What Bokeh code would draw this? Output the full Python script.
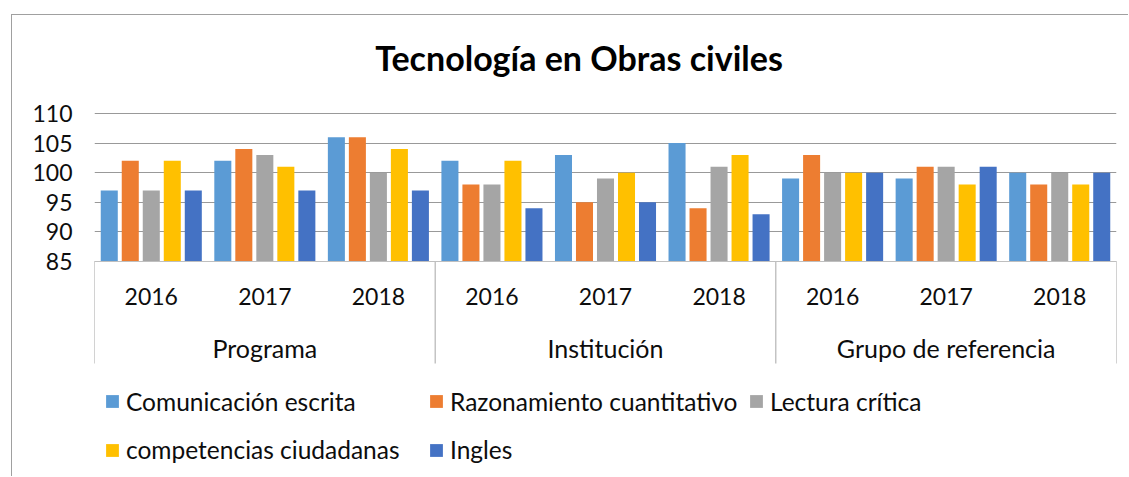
from bokeh.plotting import figure
from bokeh.models import FactorRange, Range1d, Legend, LegendItem, Label, FixedTicker, ColumnDataSource
from bokeh.transform import dodge
from bokeh.core.properties import value
from bokeh.embed import file_html
from bokeh.resources import INLINE

# ---------------- data ----------------
title = "Tecnología en Obras civiles"
groups = ["Programa", "Institución", "Grupo de referencia"]
years = ["2016", "2017", "2018"]
series = ["Comunicación escrita", "Razonamiento cuantitativo", "Lectura crítica",
          "competencias ciudadanas", "Ingles"]
colors = ["#5B9BD5", "#ED7D31", "#A5A5A5", "#FFC000", "#4472C4"]
comunicacion = [97, 102, 106, 102, 103, 105, 99, 99, 100]
razonamiento = [102, 104, 106, 98, 95, 94, 103, 101, 98]
lectura = [97, 103, 100, 98, 99, 101, 100, 101, 100]
competencias = [102, 101, 104, 102, 100, 103, 100, 98, 98]
ingles = [97, 97, 97, 94, 95, 93, 100, 101, 100]
y_ticks = [85, 90, 95, 100, 105, 110]

values = [comunicacion, razonamiento, lectura, competencias, ingles]
factors = [(g, y) for g in groups for y in years]

# ---------------- layout constants ----------------
OX, OY = 12, 15            # canvas origin on the page (after css margin + border)
W, H = 1129 - OX, 477 - OY
FRAME_L, FRAME_R = 94, 1116
LEFT, RIGHT = FRAME_L - OX, W - (FRAME_R - OX)
FONT = "Lato"
TXT = "#0d0d0d"
PX_PER_UNIT = (261 - 113) / 25.0
y_hi = 110 + (113 - OY) / PX_PER_UNIT
y_lo = y_hi - H / PX_PER_UNIT
base = y_ticks[0]

def y_at(page_y):
    return y_hi - (page_y - OY) / PX_PER_UNIT

p = figure(width=W, height=H, output_backend="svg", toolbar_location=None,
           x_range=FactorRange(*factors, factor_padding=0, group_padding=0,
                               subgroup_padding=0, range_padding=0),
           y_range=Range1d(y_lo, y_hi), x_axis_location=None, title=None,
           min_border_left=LEFT, min_border_right=RIGHT, min_border_top=0,
           min_border_bottom=0)
p.styles = {"margin-left": "11px", "margin-top": "14px",
            "border-left": "1px solid #a0a0a0", "border-top": "1px solid #a0a0a0"}
p.outline_line_color = None
p.background_fill_color = "white"
p.border_fill_color = "white"

ya = p.yaxis[0]
ya.ticker = FixedTicker(ticks=y_ticks)
ya.axis_line_color = None
ya.major_tick_line_color = None
ya.minor_tick_line_color = None
ya.major_tick_out = 0
ya.major_tick_in = 0
ya.major_label_standoff = 22
ya.major_label_text_font = FONT
ya.major_label_text_font_size = "23px"
ya.major_label_text_color = TXT

p.xgrid.visible = False
p.ygrid.ticker = FixedTicker(ticks=y_ticks)
p.ygrid.grid_line_color = "#999999"
p.ygrid.grid_line_width = 1

src = ColumnDataSource(dict(x=factors, **{f"s{i}": v for i, v in enumerate(values)}))

pitch, bw = 0.185, 0.15
renderers = []
for i, (name, col) in enumerate(zip(series, colors)):
    off = (i - (len(series) - 1) / 2) * pitch
    r = p.vbar(x=dodge("x", off, range=p.x_range), top=f"s{i}", bottom=base,
               width=bw, source=src, fill_color=col, line_color=None)
    renderers.append(r)

# category axis boxes
ng = len(years)
sep_x = [k * ng for k in range(len(groups) + 1)]
p.segment(x0=sep_x, x1=sep_x, y0=[base] * len(sep_x), y1=[y_at(363)] * len(sep_x),
          line_color="#a6a6a6", line_width=1)
p.segment(x0=[0], x1=[len(factors)], y0=[base], y1=[base], line_color="#bfbfbf", line_width=1)

p.text(x=factors, y=[y_at(296)] * len(factors), text=[f[1] for f in factors],
       text_font=value(FONT), text_font_size="23px", text_color=TXT,
       text_align="center", text_baseline="middle")
p.text(x=groups, y=[y_at(347)] * len(groups), text=groups,
       text_font=value(FONT), text_font_size="25px", text_color=TXT,
       text_align="center", text_baseline="middle")

# title
p.add_layout(Label(x=578.5 - FRAME_L, y=H - (57 - OY), x_units="screen", y_units="screen",
                   text=title, text_font=FONT, text_font_size="34px", text_font_style="bold",
                   text_color="#000000", text_align="center", text_baseline="middle"))

# legend
leg_pos = [(104, 401.5), (428, 401.5), (748, 401.5), (104, 450), (428, 450)]
for r, name, (px, py) in zip(renderers, series, leg_pos):
    lg = Legend(items=[LegendItem(label=name, renderers=[r])],
                location=(px - FRAME_L, H - (py - OY) - 14),
                glyph_width=16, glyph_height=16, label_standoff=6, padding=0, margin=0,
                border_line_color=None, background_fill_alpha=0,
                label_text_font=FONT, label_text_font_size="24.5px", label_text_color=TXT,
                label_height=28)
    p.add_layout(lg, "center")

open("out.html", "w").write(file_html(p, INLINE))
